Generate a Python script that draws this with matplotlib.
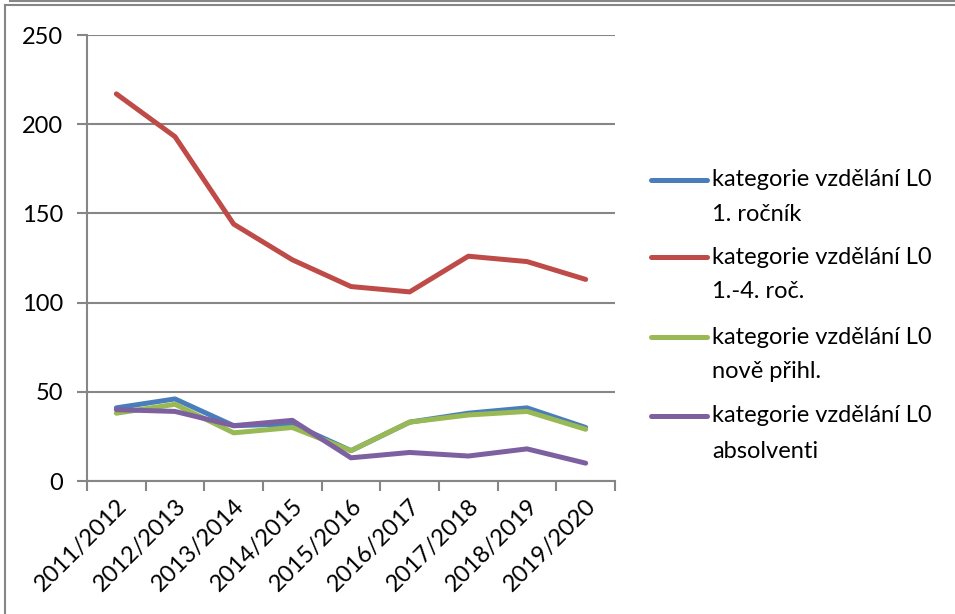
import matplotlib.pyplot as plt
from matplotlib.lines import Line2D

plt.rcParams['font.family'] = ['Lato', 'DejaVu Sans']

roky = ["2011/2012", "2012/2013", "2013/2014", "2014/2015", "2015/2016",
        "2016/2017", "2017/2018", "2018/2019", "2019/2020"]

rocnik1 = [41, 46, 31, 32, 17, 33, 38, 41, 30]
rocniky1_4 = [217, 193, 144, 124, 109, 106, 126, 123, 113]
nove_prihl = [38, 43, 27, 30, 17, 33, 37, 39, 29]
absolventi = [40, 39, 31, 34, 13, 16, 14, 18, 10]

popisky = [("kategorie vzdělání L0", "1. ročník"),
           ("kategorie vzdělání L0", "1.-4. roč."),
           ("kategorie vzdělání L0", "nově přihl."),
           ("kategorie vzdělání L0", "absolventi")]
barvy = ["#4A7EBB", "#BE4B48", "#98B954", "#7D60A0"]

W, H = 955, 614
fig = plt.figure(figsize=(W / 100, H / 100), dpi=100)
ax = fig.add_axes([87 / W, 1 - 481 / H, (615 - 87) / W, (481 - 35) / H])

x = range(len(roky))
for serie, barva in zip([rocnik1, rocniky1_4, nove_prihl, absolventi], barvy):
    ax.plot(x, serie, color=barva, lw=3.6, solid_capstyle='round', solid_joinstyle='round')

seda = "#868686"
ax.set_xlim(-0.5, len(roky) - 0.5)
ax.set_ylim(0, 250)
ax.set_yticks(range(0, 251, 50))
ax.yaxis.grid(True, color=seda, lw=1.5)
ax.set_axisbelow(True)
for s in ["top", "right"]:
    ax.spines[s].set_visible(False)
for s in ["left", "bottom"]:
    ax.spines[s].set_color(seda)
    ax.spines[s].set_linewidth(1.5)

# tick marks on category boundaries, labels under category centres
ax.set_xticks([i - 0.5 for i in range(len(roky) + 1)])
ax.set_xticklabels([])
ax.set_xticks(list(x), minor=True)
ax.set_xticklabels(roky, minor=True, rotation=45, ha='right', rotation_mode='anchor', fontsize=17)
ax.tick_params(axis='x', which='minor', length=0, pad=10)
ax.tick_params(axis='x', which='major', length=7, color=seda, width=1.5)
ax.tick_params(axis='y', length=7, color=seda, width=1.5, labelsize=17, pad=10)

# legend
y_radky = [180, 257, 337, 416]
for (r1, r2), barva, yy in zip(popisky, barvy, y_radky):
    fig.add_artist(Line2D([651 / W, 707 / W], [1 - yy / H, 1 - yy / H], color=barva, lw=3.6,
                          solid_capstyle='round'))
    fig.text(712 / W, 1 - yy / H, r1, fontsize=17, va='center')
    fig.text(712 / W, 1 - (yy + 35) / H, r2, fontsize=17, va='center')

# chart frame
fig.add_artist(Line2D([5 / W, 5 / W], [0, 1 - 5 / H], color=seda, lw=1.5))
fig.add_artist(Line2D([5 / W, 1], [1 - 5 / H, 1 - 5 / H], color=seda, lw=1.5))
fig.add_artist(Line2D([10 / W, 1], [1 - 0.5 / H, 1 - 0.5 / H], color=seda, lw=1.5))

plt.savefig("out.png", dpi=100)
